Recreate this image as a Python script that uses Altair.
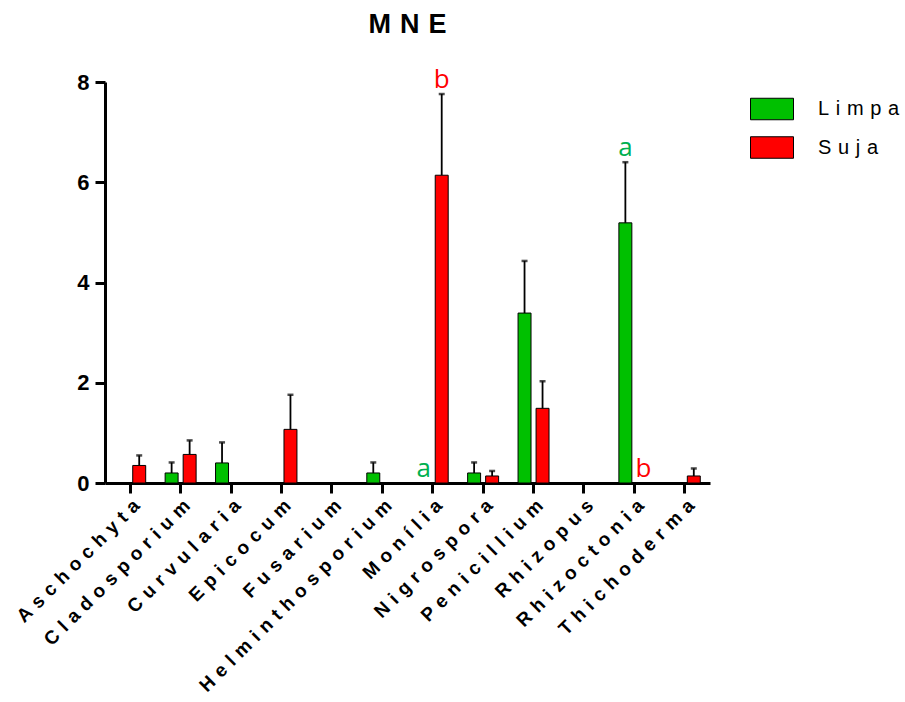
import altair as alt
import pandas as pd

# Fungal genera counted in the MNE samples
generos = ["Aschochyta", "Cladosporium", "Curvularia", "Epicocum", "Fusarium",
           "Helminthosporium", "Monília", "Nigrospora", "Penicillium",
           "Rhizopus", "Rhizoctonia", "Thichoderma"]

grupos = ["Limpa", "Suja"]

# Means and standard errors per group
limpa_media = [0, 0.20, 0.40, 0, 0, 0.20, 0, 0.20, 3.39, 0, 5.19, 0]
limpa_erro = [0, 0.21, 0.41, 0, 0, 0.21, 0, 0.21, 1.04, 0, 1.21, 0]
suja_media = [0.35, 0.57, 0, 1.07, 0, 0, 6.14, 0.14, 1.49, 0, 0, 0.14]
suja_erro = [0.20, 0.28, 0, 0.69, 0, 0, 1.62, 0.10, 0.54, 0, 0, 0.15]

# Significance letters
letra_genero = ["Monília", "Monília", "Rhizoctonia", "Rhizoctonia"]
letra_grupo = ["Limpa", "Suja", "Limpa", "Suja"]
letra_texto = ["a", "b", "a", "b"]

linhas = []
for g, m, e in zip(generos, limpa_media, limpa_erro):
    linhas.append({"genero": g, "grupo": "Limpa", "media": m, "erro": e})
for g, m, e in zip(generos, suja_media, suja_erro):
    linhas.append({"genero": g, "grupo": "Suja", "media": m, "erro": e})
df = pd.DataFrame(linhas)
df["topo"] = df["media"] + df["erro"]

letras = pd.DataFrame({"genero": letra_genero, "grupo": letra_grupo, "letra": letra_texto})
letras = letras.merge(df[["genero", "grupo", "topo"]], on=["genero", "grupo"])

ESP = "\u2004"
FONTE = "Liberation Sans"

x_scale = alt.Scale(domain=generos, paddingInner=0, paddingOuter=0)
xoff_scale = alt.Scale(domain=grupos, paddingInner=0.28, paddingOuter=0.54)

x_enc = alt.X(
    "genero:N", scale=x_scale,
    axis=alt.Axis(
        title=None, labelAngle=-45, labelAlign="right", labelBaseline="top",
        labelFont=FONTE, labelFontWeight="bold", labelFontSize=19, labelColor="black",
        labelPadding=3, labelLimit=0, tickSize=10, tickWidth=3, tickColor="black",
        domainWidth=3, domainColor="black",
        labelExpr=f"join(split(datum.label, ''), '{ESP}')",
    ),
)
xoff_enc = alt.XOffset("grupo:N", scale=xoff_scale)
y_scale = alt.Scale(domain=[0, 8], nice=False)
y_axis = alt.Axis(
    title=None, values=[0, 2, 4, 6, 8], grid=False,
    labelFont=FONTE, labelFontWeight="bold", labelFontSize=22, labelColor="black",
    labelPadding=6, tickSize=10, tickWidth=3, tickColor="black",
    domainWidth=3, domainColor="black",
)

base = alt.Chart(df).encode(x=x_enc, xOffset=xoff_enc)

barras = base.mark_bar(stroke="black", strokeWidth=1).encode(
    y=alt.Y("media:Q", scale=y_scale, axis=y_axis),
    color=alt.Color(
        "grupo:N",
        scale=alt.Scale(domain=grupos, range=["#00C000", "#FF0000"]),
        legend=alt.Legend(
            orient="none", legendX=645, legendY=5, title=None, padding=0,
            symbolType="M-1,-0.5H1V0.5H-1Z", symbolSize=1849,
            symbolStrokeColor="black", symbolStrokeWidth=1, symbolOpacity=1,
            labelFont=FONTE, labelFontSize=20, labelColor="black",
            labelOffset=24, rowPadding=3.5,
            labelExpr=f"join(split(datum.label, ''), '{ESP}')",
        ),
    ),
).transform_filter("datum.media > 0")

hastes = base.mark_rule(color="black", strokeWidth=1.8).encode(
    y="media:Q", y2="topo:Q"
).transform_filter("datum.erro > 0")

capas = base.mark_tick(color="black", size=6, thickness=2.5).encode(
    y="topo:Q"
).transform_filter("datum.erro > 0")

textos = alt.Chart(letras).mark_text(
    font="Open Sans", fontSize=26, baseline="alphabetic", dy=-6
).encode(
    x=alt.X("genero:N", scale=x_scale),
    xOffset=alt.XOffset("grupo:N", scale=xoff_scale),
    y="topo:Q",
    text="letra:N",
    fill=alt.condition("datum.grupo == 'Limpa'", alt.value("#00B050"), alt.value("#FF0000")),
)

chart = alt.layer(barras, hastes, capas, textos).properties(
    width=605, height=401,
    autosize="none",
    background="white",
    padding={"left": 105, "top": 82, "right": 195, "bottom": 219},
    title=alt.TitleParams(ESP.join("MNE"), font=FONTE, fontWeight="bold",
                          fontSize=27, color="black", anchor="middle", offset=28),
).configure_view(strokeWidth=0)

chart.save("out.html", embed_options={"renderer": "svg", "actions": False})
